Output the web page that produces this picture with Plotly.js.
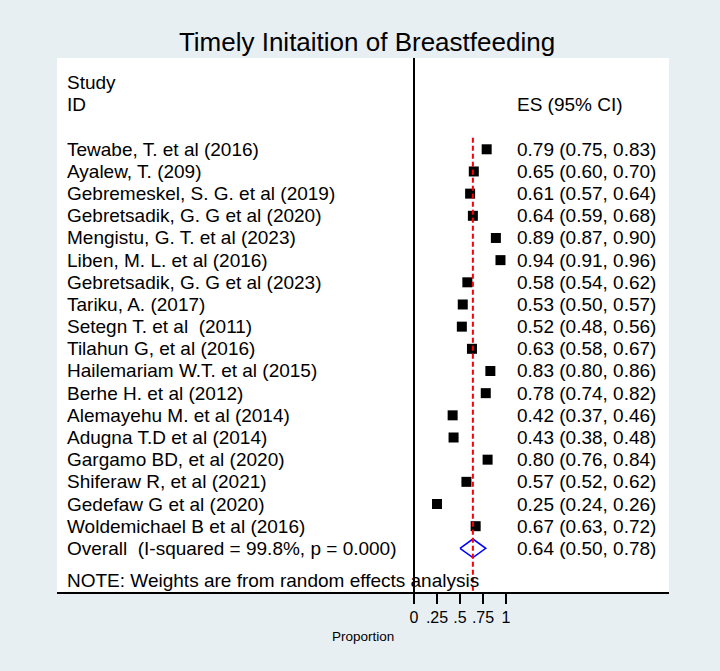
<!DOCTYPE html>
<html>
<head>
<meta charset="utf-8">
<script src="https://cdn.plot.ly/plotly-3.0.1.min.js"></script>
<style>html,body{margin:0;padding:0;background:#e8eff3;}</style>
</head>
<body>
<div id="chart" style="width:720px;height:671px;"></div>
<script>
// ---- Data ----
const studies = [
  "Tewabe, T. et al (2016)",
  "Ayalew, T. (209)",
  "Gebremeskel, S. G. et al (2019)",
  "Gebretsadik, G. G et al (2020)",
  "Mengistu, G. T. et al (2023)",
  "Liben, M. L. et al (2016)",
  "Gebretsadik, G. G et al (2023)",
  "Tariku, A. (2017)",
  "Setegn T. et al  (2011)",
  "Tilahun G, et al (2016)",
  "Hailemariam W.T. et al (2015)",
  "Berhe H. et al (2012)",
  "Alemayehu M. et al (2014)",
  "Adugna T.D et al (2014)",
  "Gargamo BD, et al (2020)",
  "Shiferaw R, et al (2021)",
  "Gedefaw G et al (2020)",
  "Woldemichael B et al (2016)"
];
const es = [0.79,0.65,0.61,0.64,0.89,0.94,0.58,0.53,0.52,0.63,0.83,0.78,0.42,0.43,0.80,0.57,0.25,0.67];
const ciLow = [0.75,0.60,0.57,0.59,0.87,0.91,0.54,0.50,0.48,0.58,0.80,0.74,0.37,0.38,0.76,0.52,0.24,0.63];
const ciHigh = [0.83,0.70,0.64,0.68,0.90,0.96,0.62,0.57,0.56,0.67,0.86,0.82,0.46,0.48,0.84,0.62,0.26,0.72];
const overallLabel = "Overall  (I-squared = 99.8%, p = 0.000)";
const overallES = 0.64, overallLow = 0.50, overallHigh = 0.78;
const tickVals = [0, 0.25, 0.5, 0.75, 1];
const tickText = ["0", ".25", ".5", ".75", "1"];
const noteText = "NOTE: Weights are from random effects analysis";

// ---- Build ----
const FONT = "Liberation Sans, Arial, sans-serif";
const rows = studies.map((_, i) => i);
const overallRow = studies.length;
const fmt = v => v.toFixed(2);

const studyTrace = {
  type: "scatter", mode: "markers",
  x: es, y: rows,
  marker: {symbol: "square", size: 10, color: "#000000", line: {width: 0}},
  error_x: {type: "data", symmetric: false,
    array: es.map((v, i) => ciHigh[i] - v),
    arrayminus: es.map((v, i) => v - ciLow[i]),
    color: "#000000", thickness: 1.5, width: 0},
  hoverinfo: "skip", showlegend: false
};
const h = 0.42;
const diamondTrace = {
  type: "scatter", mode: "lines",
  x: [overallLow, overallES, overallHigh, overallES, overallLow],
  y: [overallRow, overallRow - h, overallRow, overallRow + h, overallRow],
  line: {color: "#0000ff", width: 1.5},
  hoverinfo: "skip", showlegend: false
};

const labelX = -3.79, esX = 1.10;
const annotations = [];
const addText = (x, y, text, size, anchor) => annotations.push({
  x: x, y: y, xref: "x", yref: "y", text: text, showarrow: false,
  xanchor: anchor || "left", yanchor: "middle",
  font: {family: FONT, size: size || 19, color: "#000000"}
});
studies.forEach((s, i) => {
  addText(labelX, i, s);
  addText(esX, i, fmt(es[i]) + " (" + fmt(ciLow[i]) + ", " + fmt(ciHigh[i]) + ")");
});
addText(labelX, overallRow, overallLabel);
addText(esX, overallRow, fmt(overallES) + " (" + fmt(overallLow) + ", " + fmt(overallHigh) + ")");
addText(labelX, 19.47, noteText);
addText(labelX, -3.03, "Study");
addText(labelX, -2.04, "ID");
addText(esX, -2.04, "ES (95% CI)");
annotations.push({
  x: 0.5, y: -0.0824, xref: "paper", yref: "paper", text: "Proportion",
  showarrow: false, xanchor: "center", yanchor: "middle",
  font: {family: FONT, size: 13.5, color: "#000000"}
});

const layout = {
  width: 720, height: 671,
  margin: {l: 57, r: 51, t: 58, b: 79, pad: 0},
  paper_bgcolor: "#e8eff3",
  plot_bgcolor: "#ffffff",
  font: {family: FONT, color: "#000000"},
  title: {text: "Timely Initaition of Breastfeeding",
    font: {family: FONT, size: 26, color: "#000000"},
    xref: "container", x: 367 / 720, xanchor: "center",
    yref: "container", y: 1 - 42 / 671, yanchor: "middle"},
  xaxis: {
    range: [-3.8804, 2.7717], showgrid: false, zeroline: false,
    showline: true, linecolor: "#000000", linewidth: 1.5,
    tickmode: "array", tickvals: tickVals, ticktext: tickText,
    ticks: "outside", ticklen: 10, tickwidth: 1.5, tickcolor: "#000000",
    tickfont: {family: FONT, size: 16, color: "#000000"},
    fixedrange: true
  },
  yaxis: {
    range: [19.969, -4.118], showgrid: false, zeroline: false,
    showline: false, showticklabels: false, ticks: "", fixedrange: true
  },
  shapes: [
    {type: "line", xref: "x", yref: "paper", x0: 0, x1: 0, y0: -10 / 534, y1: 1,
     line: {color: "#000000", width: 2}},
    {type: "line", xref: "x", yref: "y", x0: overallES, x1: overallES, y0: -0.52, y1: 19.969,
     line: {color: "#ff0000", width: 2, dash: "5px,3px"}}
  ],
  annotations: annotations,
  showlegend: false
};

Plotly.newPlot("chart", [studyTrace, diamondTrace], layout, {staticPlot: true, displayModeBar: false});
</script>
</body>
</html>
